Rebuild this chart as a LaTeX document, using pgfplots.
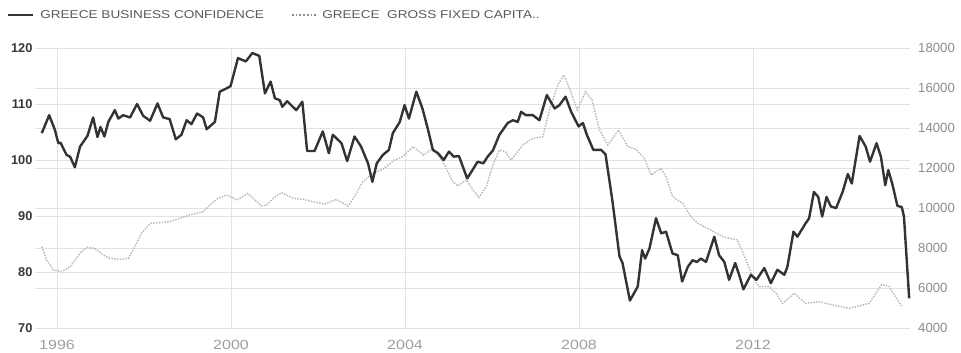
\documentclass[border=0pt]{standalone}
\usepackage{fontspec}
\setmainfont{Liberation Sans}
\newfontfamily\legfont[FakeStretch=1.2]{Liberation Sans}
\usepackage{pgfplots}
\pgfplotsset{compat=1.18}

\pgfplotstableread{
yr val
1995.65 104.8
1995.82 108.0
1995.95 105.4
1996.03 103.0
1996.08 103.1
1996.22 100.9
1996.30 100.6
1996.41 98.7
1996.53 102.4
1996.70 104.3
1996.83 107.6
1996.93 104.1
1997.00 105.9
1997.09 104.2
1997.18 106.8
1997.33 108.9
1997.41 107.4
1997.52 108.0
1997.68 107.6
1997.84 110.0
1997.98 107.9
1998.14 107.0
1998.31 110.1
1998.44 107.6
1998.59 107.3
1998.73 103.7
1998.86 104.5
1998.98 107.1
1999.09 106.4
1999.22 108.3
1999.36 107.6
1999.44 105.5
1999.63 106.8
1999.74 112.2
1999.90 112.8
1999.99 113.2
2000.16 118.2
2000.34 117.6
2000.49 119.1
2000.65 118.6
2000.78 111.9
2000.91 114.0
2001.01 111.0
2001.12 110.7
2001.18 109.5
2001.29 110.5
2001.50 108.9
2001.64 110.4
2001.75 101.6
2001.92 101.6
2002.11 105.1
2002.25 101.2
2002.34 104.5
2002.54 103.0
2002.67 99.8
2002.84 104.2
2002.99 102.4
2003.15 99.4
2003.25 96.1
2003.35 99.4
2003.49 100.9
2003.63 101.8
2003.72 104.8
2003.88 106.8
2003.99 109.8
2004.09 107.4
2004.26 112.2
2004.40 109.2
2004.53 105.4
2004.64 101.8
2004.76 101.2
2004.89 100.0
2005.01 101.5
2005.12 100.6
2005.24 100.7
2005.43 96.7
2005.55 98.2
2005.67 99.7
2005.80 99.4
2005.90 100.6
2006.02 101.7
2006.17 104.5
2006.36 106.6
2006.48 107.1
2006.59 106.8
2006.67 108.6
2006.78 108.0
2006.94 108.0
2007.09 107.1
2007.26 111.6
2007.44 109.2
2007.55 109.8
2007.69 111.3
2007.82 108.6
2007.99 106.0
2008.09 106.6
2008.18 104.5
2008.33 101.8
2008.51 101.8
2008.61 101.0
2008.77 92.6
2008.93 82.8
2009.00 81.6
2009.17 74.9
2009.35 77.4
2009.45 83.9
2009.52 82.4
2009.62 84.2
2009.77 89.6
2009.89 86.9
2010.00 87.2
2010.15 83.3
2010.27 83.0
2010.37 78.3
2010.50 80.9
2010.61 82.1
2010.71 81.8
2010.80 82.4
2010.92 81.8
2011.11 86.3
2011.22 83.0
2011.34 81.8
2011.45 78.6
2011.59 81.6
2011.68 79.5
2011.78 76.9
2011.95 79.5
2012.08 78.6
2012.26 80.7
2012.41 78.0
2012.56 80.4
2012.72 79.5
2012.79 80.9
2012.93 87.2
2013.02 86.3
2013.21 88.7
2013.29 89.6
2013.40 94.3
2013.50 93.4
2013.59 89.9
2013.69 93.4
2013.79 91.7
2013.91 91.4
2014.06 94.3
2014.18 97.5
2014.27 95.8
2014.45 104.3
2014.59 102.4
2014.69 99.7
2014.84 103.0
2014.94 100.6
2015.04 95.5
2015.11 98.2
2015.20 95.8
2015.32 91.8
2015.42 91.6
2015.47 89.9
2015.59 75.3
}\bc

\pgfplotstableread{
yr val
1995.65 8067
1995.76 7400
1995.92 6900
1996.11 6817
1996.30 7067
1996.53 7733
1996.68 8033
1996.87 7983
1997.06 7650
1997.22 7483
1997.45 7433
1997.64 7483
1997.79 8067
1997.94 8733
1998.14 9233
1998.33 9267
1998.59 9317
1998.82 9483
1999.05 9650
1999.36 9817
1999.51 10150
1999.70 10483
1999.90 10650
2000.14 10400
2000.39 10733
2000.51 10483
2000.70 10100
2000.82 10150
2000.97 10483
2001.16 10767
2001.35 10567
2001.43 10483
2001.66 10433
2001.89 10317
2002.15 10200
2002.42 10433
2002.69 10100
2002.84 10567
2003.03 11317
2003.26 11733
2003.49 11933
2003.76 12400
2003.95 12567
2004.18 13067
2004.43 12650
2004.64 12983
2004.87 12317
2005.10 11317
2005.21 11100
2005.41 11400
2005.56 10900
2005.70 10533
2005.87 11067
2006.02 12150
2006.17 12900
2006.31 12817
2006.44 12400
2006.56 12733
2006.71 13150
2006.94 13483
2007.17 13567
2007.32 14900
2007.51 16150
2007.65 16650
2007.78 15983
2007.96 14900
2008.15 15817
2008.30 15400
2008.47 13900
2008.66 13150
2008.91 13900
2009.12 13067
2009.31 12933
2009.50 12483
2009.66 11650
2009.88 11983
2010.00 11567
2010.15 10567
2010.38 10233
2010.57 9567
2010.73 9233
2011.03 8900
2011.30 8567
2011.64 8400
2011.84 7400
2011.99 6567
2012.14 6067
2012.37 6067
2012.53 5733
2012.68 5233
2012.95 5733
2013.21 5233
2013.52 5317
2013.83 5150
2014.21 4983
2014.67 5233
2014.96 6175
2015.13 6067
2015.43 5050
}\gfcf

\definecolor{gridc}{HTML}{E2E2E2}
\definecolor{bcline}{HTML}{333333}
\definecolor{gfline}{HTML}{B8B8B8}

\begin{document}
\begin{tikzpicture}
\useasboundingbox (0pt,0pt) rectangle (720.75pt,264.75pt);
\pgfplotsset{
  base/.style={
    scale only axis, width=656.25pt, height=210pt,
    at={(26.25pt,18.75pt)}, anchor=south west,
    xmin=1995.494, xmax=2015.609,
    axis line style={draw=none}, major tick length=0pt,
    /pgf/number format/assume math mode=true,
    /pgf/number format/1000 sep={},
    scaled y ticks=false, scaled x ticks=false,
    tick label style={font=\fontsize{9.6pt}{11pt}\selectfont},
    clip=false,
  }
}
% Right axis: GFCF, also carries all grid lines
\begin{axis}[base,
  ymin=4000, ymax=18000,
  ytick={4000,6000,...,18000},
  axis y line*=right, axis x line*=bottom,
  xtick={1996,2000,2004,2008,2012},
  xticklabels={1996,2000,2004,2008,2012},
  xmajorgrids, ymajorgrids,
  extra y ticks={6800,9600,12400,15200},
  extra y tick labels={},
  extra y tick style={grid=major},
  grid style={color=gridc, line width=0.6pt},
  yticklabel style={color=black!45, xshift=2.6pt, font=\fontsize{9.9pt}{11pt}\selectfont},
  xticklabel style={color=black!38, yshift=-5.5pt, font=\legfont\fontsize{10pt}{11pt}\selectfont},
]
\addplot[color=gfline, line width=1.1pt, densely dotted] table[x=yr, y=val] {\gfcf};
\end{axis}
% Left axis: business confidence
\begin{axis}[base,
  ymin=70, ymax=120,
  ytick={70,80,...,120},
  axis y line*=left,
  axis x line=none,
  yticklabel style={color=black!78, xshift=1.6pt, font=\fontsize{9.6pt}{11pt}\selectfont\bfseries},
]
\addplot[color=bcline, line width=1.8pt, line join=round] table[x=yr, y=val] {\bc};
\end{axis}
% Legend
\draw[color=bcline, line width=1.8pt] (6pt,253.5pt) -- (24.75pt,253.5pt);
\node[anchor=west, inner sep=0pt, text=black!65, font=\legfont\fontsize{8.5pt}{10pt}\selectfont] at (30pt,253.5pt) {GREECE BUSINESS CONFIDENCE};
\draw[color=black!45, line width=1.2pt, dash pattern=on 1.2pt off 1.6pt] (219pt,253.5pt) -- (237pt,253.5pt);
\node[anchor=west, inner sep=0pt, text=black!65, font=\legfont\fontsize{8.5pt}{10pt}\selectfont] at (241.5pt,253.5pt) {GREECE\ \ GROSS\ FIXED\ CAPITA..};
\end{tikzpicture}
\end{document}
